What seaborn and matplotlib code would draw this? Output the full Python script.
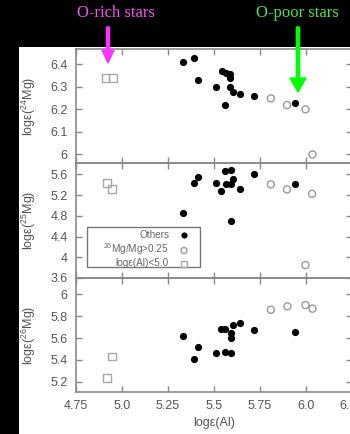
import numpy as np
import pandas as pd
import matplotlib
matplotlib.use("Agg")
import matplotlib.pyplot as plt
import seaborn as sns
from matplotlib.patches import Rectangle, FancyArrow

# ---------------- data ----------------
groups = ["Others", "$^{26}$Mg/Mg>0.25", "logε(Al)<5.0"]

others_al = [5.332, 5.393, 5.413, 5.542, 5.563, 5.589, 5.589, 5.512, 5.589, 5.601, 5.641, 5.562, 5.719, 5.938]
others_mg24 = [6.409, 6.430, 6.329, 6.369, 6.361, 6.358, 6.339, 6.299, 6.300, 6.278, 6.269, 6.218, 6.258, 6.229]

others25_al = [5.332, 5.393, 5.413, 5.562, 5.590, 5.512, 5.563, 5.601, 5.590, 5.540, 5.641, 5.719, 5.938, 5.590]
others_mg25 = [4.859, 5.426, 5.542, 5.669, 5.683, 5.438, 5.413, 5.515, 5.407, 5.272, 5.322, 5.606, 5.413, 4.693]

others26_al = [5.332, 5.413, 5.393, 5.512, 5.560, 5.590, 5.540, 5.560, 5.590, 5.590, 5.601, 5.641, 5.719, 5.938]
others_mg26 = [5.622, 5.519, 5.403, 5.461, 5.470, 5.461, 5.680, 5.680, 5.644, 5.598, 5.720, 5.741, 5.671, 5.658]

rich26_al_p1 = [5.809, 5.897, 5.997, 6.035]
rich26_mg24 = [6.248, 6.218, 6.199, 5.998]
rich26_al_p2 = [5.809, 5.897, 6.033, 5.997]
rich26_mg25 = [5.407, 5.310, 5.225, 3.849]
rich26_al_p3 = [5.809, 5.899, 5.997, 6.035]
rich26_mg26 = [5.859, 5.890, 5.902, 5.869]

lowal_al_p1 = [4.910, 4.950]
lowal_mg24 = [6.340, 6.340]
lowal_al_p2 = [4.917, 4.947]
lowal_mg25 = [5.438, 5.322]
lowal_al_p3 = [4.947, 4.918]
lowal_mg26 = [5.430, 5.234]

xticks = [4.75, 5.0, 5.25, 5.5, 5.75, 6.0, 6.25]
xticklabels = ["4.75", "5.0", "5.25", "5.5", "5.75", "6.0", "6.25"]
yticks1 = [6.0, 6.1, 6.2, 6.3, 6.4]
yticklabels1 = ["6", "6.1", "6.2", "6.3", "6.4"]
yticks2 = [3.6, 4.0, 4.4, 4.8, 5.2, 5.6]
yticklabels2 = ["3.6", "4", "4.4", "4.8", "5.2", "5.6"]
yticks3 = [5.2, 5.4, 5.6, 5.8, 6.0]
yticklabels3 = ["5.2", "5.4", "5.6", "5.8", "6"]
ylabels = ["logε($^{24}$Mg)", "logε($^{25}$Mg)", "logε($^{26}$Mg)"]
xlabel = "logε(Al)"

# ---------------- style ----------------
sns.set_theme(style="ticks")
plt.rcParams["font.family"] = ["Liberation Sans", "DejaVu Sans"]
plt.rcParams["mathtext.default"] = "regular"

W, H = 350, 434
fig = plt.figure(figsize=(W / 100, H / 100), dpi=100, facecolor="black")

# white panel region
fig.add_artist(Rectangle((19 / W, 0), (W - 19) / W, (H - 47) / H,
                         transform=fig.transFigure, facecolor="white",
                         edgecolor="none", zorder=0))

tick_col = "#555555"
spine_col = "#8a8a8a"
left = 76 / W
width = (352 - 76) / W
panel_px = [(49, 163), (163, 278), (278, 392)]
ylims = [(5.96, 6.468), (3.6, 5.82), (5.105, 6.15)]

panels = [
    (others_al, others_mg24, rich26_al_p1, rich26_mg24, lowal_al_p1, lowal_mg24, yticks1, yticklabels1),
    (others25_al, others_mg25, rich26_al_p2, rich26_mg25, lowal_al_p2, lowal_mg25, yticks2, yticklabels2),
    (others26_al, others_mg26, rich26_al_p3, rich26_mg26, lowal_al_p3, lowal_mg26, yticks3, yticklabels3),
]

axes = []
for i, (p, data) in enumerate(zip(panel_px, panels)):
    top, bot = p
    ax = fig.add_axes([left, 1 - bot / H, width, (bot - top) / H])
    ax.set_facecolor("none")
    oa, om, ra, rm, la, lm, yt, ytl = data
    sns.scatterplot(x=oa, y=om, ax=ax, marker="o", s=27, color="black",
                    edgecolor="black", linewidth=0, label=groups[0], zorder=3)
    sns.scatterplot(x=ra, y=rm, ax=ax, marker="o", s=26, facecolor="none",
                    edgecolor="#9a9a9a", linewidth=1.0, label=groups[1], zorder=3)
    sns.scatterplot(x=la, y=lm, ax=ax, marker="s", s=30, facecolor="none",
                    edgecolor="#a8a8a8", linewidth=1.0, label=groups[2], zorder=3)
    ax.set_xlim(4.75, 6.25)
    ax.set_ylim(*ylims[i])
    ax.set_yticks(yt)
    ax.set_yticklabels(ytl)
    ax.set_xticks(xticks)
    if i == 2:
        ax.set_xticklabels(xticklabels)
        ax.set_xlabel(xlabel, fontsize=9, color=tick_col)
        ax.xaxis.set_label_coords(0.5, -0.22)
    else:
        ax.set_xticklabels([])
        ax.set_xlabel("")
    ax.set_ylabel(ylabels[i], fontsize=9, color=tick_col)
    ax.yaxis.set_label_coords(-0.138, 0.5)
    ax.tick_params(direction="in", length=4, width=1, colors=spine_col,
                   labelcolor=tick_col, labelsize=9, top=True, right=True, pad=6)
    for s in ax.spines.values():
        s.set_color(spine_col)
        s.set_linewidth(1.2)
    if i == 1:
        ah = bot - top
        leg = ax.legend(loc="lower right",
                        bbox_to_anchor=((189 - 76) / 276, (278 - 268.5) / ah),
                        borderaxespad=0, borderpad=0, markerfirst=False,
                        fontsize=7.2, frameon=False, handletextpad=1.0,
                        labelspacing=0.14, handlelength=1.0, markerscale=0.85)
        for t in leg.get_texts():
            t.set_color("#666666")
        ax.add_patch(Rectangle(((87 - 76) / 276, (278 - 267) / ah),
                               113 / 276, 40 / ah, transform=ax.transAxes,
                               facecolor="none", edgecolor="#777777",
                               linewidth=1.0, zorder=4))
    else:
        lg = ax.get_legend()
        if lg is not None:
            lg.remove()
    axes.append(ax)

# annotations (text + arrows)
fig.text(116 / W, 1 - 13 / H, "O-rich stars", color="#ee55ee", fontsize=12,
         family=["Liberation Serif", "DejaVu Serif"], ha="center", va="center")
fig.text(297 / W, 1 - 13 / H, "O-poor stars", color="#55dd55", fontsize=12,
         family=["Liberation Serif", "DejaVu Serif"], ha="center", va="center")

def px_arrow(x, y0, y1, color, hw, hl):
    # coordinates in inches via dpi_scale_trans
    arr = FancyArrow(x / 100, (H - y0) / 100, 0, -(y1 - y0) / 100,
                     width=3.2 / 100, head_width=hw / 100, head_length=hl / 100,
                     length_includes_head=True, color=color,
                     transform=fig.dpi_scale_trans, zorder=10)
    fig.add_artist(arr)

px_arrow(108, 27, 63, "#ff33ff", 12, 13)
px_arrow(298, 27, 92, "#00ff00", 16, 14)

fig.savefig("out.png", dpi=100, facecolor="black")
